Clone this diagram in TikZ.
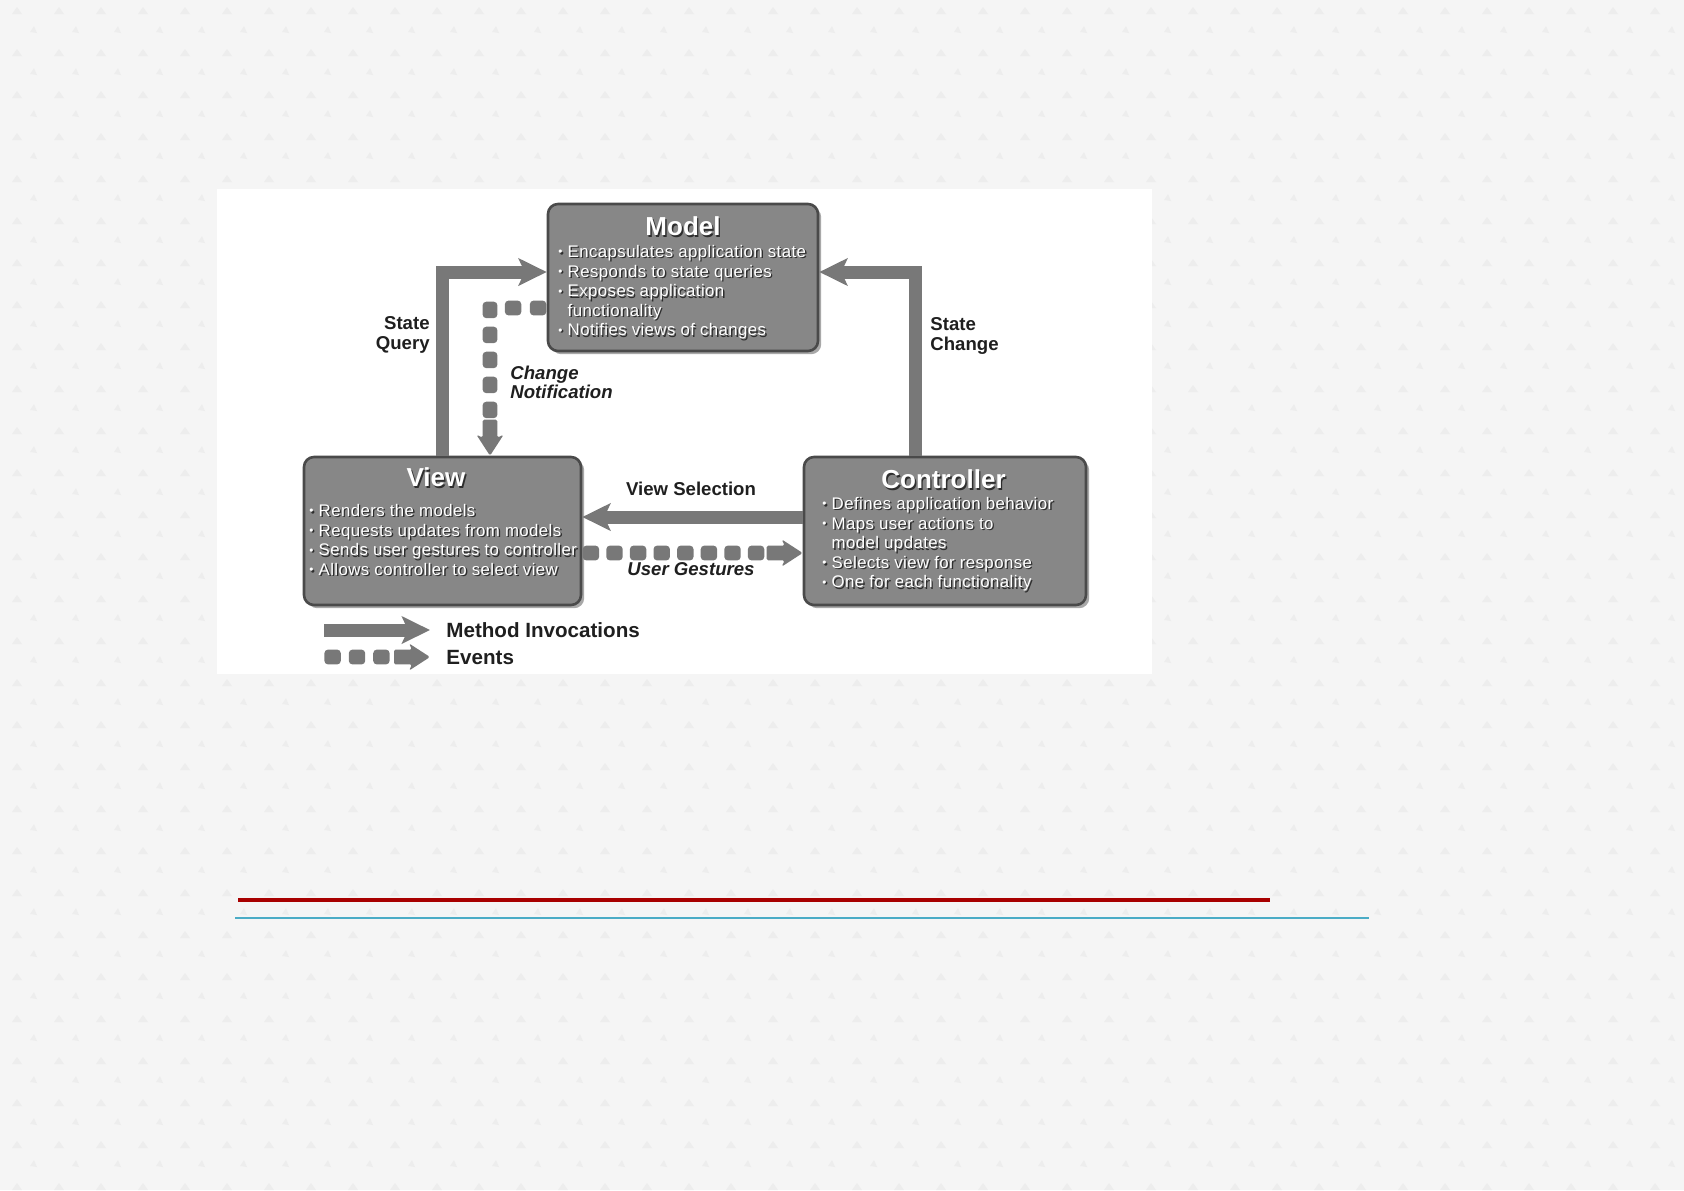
\documentclass[tikz,border=0pt]{standalone}
\usepackage{fontspec}
\setmainfont{Liberation Sans}
\usepackage{graphicx}
\usetikzlibrary{arrows.meta,shadows,decorations.markings}
\definecolor{bgcol}{HTML}{F5F5F5}
\definecolor{bgmark}{HTML}{EDEDED}
\definecolor{boxfill}{HTML}{878787}
\definecolor{boxdraw}{HTML}{4A4A4A}
\definecolor{arrcol}{HTML}{787878}
\definecolor{txtsh}{HTML}{2E2E2E}
\definecolor{redline}{HTML}{A80000}
\definecolor{blueline}{HTML}{4BACC6}
\newcommand\shd[1]{\leavevmode\rlap{\kern0.7pt\raisebox{-0.7pt}{\textcolor{txtsh}{#1}}}#1}
\newcommand\itm[1]{\shd{\raisebox{.2ex}{\scalebox{.7}{•}}\hspace{2.6pt}#1}}
\newcommand\cnt[1]{\shd{\hphantom{\scalebox{.7}{•}}\hspace{2.6pt}#1}}
\begin{document}
\begin{tikzpicture}[x=0.5pt,y=-0.5pt,
  box/.style={draw=boxdraw, line width=1.3pt, fill=boxfill, rounded corners=5pt,
     drop shadow={shadow xshift=1.6pt, shadow yshift=-1.6pt, opacity=.45, fill=black!75}},
  ttl/.style={text=white, font=\bfseries\fontsize{13}{15}\selectfont, inner sep=0pt},
  blt/.style={text=white, font=\fontsize{8.4}{9.8}\selectfont\addfontfeatures{LetterSpace=2.5}, align=left, inner sep=0pt, anchor=north west},
  lbl/.style={font=\bfseries\fontsize{9.3}{9.6}\selectfont, inner sep=0pt, text=black!88},
  ilbl/.style={font=\bfseries\itshape\fontsize{9.3}{9.6}\selectfont, inner sep=0pt, text=black!88},
  leg/.style={font=\bfseries\fontsize{10.3}{12}\selectfont, inner sep=0pt, text=black!88},
  marrow/.style={draw=arrcol, line width=6.5pt, -{Stealth[length=14pt,width=13.5pt,inset=3pt]}},
  evarrow/.style={color=arrcol, postaction={decorate}, decoration={markings,
     mark=between positions 4.3pt and -22pt step #1 with {\fill[rounded corners=1.8pt] (-4.1pt,-3.7pt) rectangle (4.1pt,3.7pt);},
     mark=at position 1 with {\fill[rounded corners=0.8pt] (-18pt,-3.7pt) -- (-9pt,-3.7pt) -- (-10.5pt,-6.8pt) -- (0pt,0pt) -- (-10.5pt,6.8pt) -- (-9pt,3.7pt) -- (-18pt,3.7pt) -- cycle;}}},
  evarrow/.default=12pt,
]
\useasboundingbox (0,0) rectangle (1684,1190);
\fill[bgcol] (0,0) rectangle (1684,1190);
\foreach \i in {0,...,41} {\foreach \j in {0,...,29} {
  \fill[bgmark] (\i*42+12,\j*42+14) -- ++(5,-7) -- ++(5,7) -- cycle;
  \fill[bgmark] (\i*42+30,\j*42+32) -- ++(4,-6) -- ++(3,7) -- cycle;
}}
\fill[white] (217,189) rectangle (1152,674);

% boxes
\node[box, minimum width=135pt, minimum height=73.5pt] (model) at (683,277.5) {};
\node[box, minimum width=138.5pt, minimum height=74pt] (view) at (442.5,531) {};
\node[box, minimum width=141pt, minimum height=74pt] (ctrl) at (945,531) {};

% titles
\node[ttl] (modelT) at (683,227) {\shd{Model}};
\node[ttl] (viewT) at (436,478) {\shd{View}};
\node[ttl] (ctrlT) at (943.5,480) {\shd{Controller}};

% bullets
\node[blt] (modelB) at (558,245) {\itm{Encapsulates application state}\\ \itm{Responds to state queries}\\ \itm{Exposes application}\\ \cnt{functionality}\\ \itm{Notifies views of changes}};
\node[blt] (viewB) at (309,504) {\itm{Renders the models}\\ \itm{Requests updates from models}\\ \itm{Sends user gestures to controller}\\ \itm{Allows controller to select view}};
\node[blt] (ctrlB) at (822,497) {\itm{Defines application behavior}\\ \itm{Maps user actions to}\\ \cnt{model updates}\\ \itm{Selects view for response}\\ \itm{One for each functionality}};

% method invocation arrows
\draw[marrow] (view.north) |- ([yshift=2.75pt]model.west);
\draw[marrow] ([xshift=-15pt]ctrl.north) |- ([yshift=2.75pt]model.east);
\draw[marrow] ([yshift=7pt]ctrl.west) -- ([yshift=7pt]view.east);

% event arrows
\path[evarrow=12.5pt] ([yshift=-15.25pt]model.west) -| ([xshift=23.75pt]view.north);
\path[evarrow=11.8pt] ([yshift=-11pt]view.east) -- ([yshift=-11pt]ctrl.west);

% labels
\node[lbl, align=right, anchor=east] (sq) at (430,335) {State\\Query};
\node[lbl, align=left, anchor=west] (sc) at (930,336) {State\\Change};
\node[ilbl, align=left, anchor=west] (cn) at (510,382) {Change\\Notification};
\node[lbl] (vs) at (691,489) {View Selection};
\node[ilbl] (ug) at (691,569) {User Gestures};

% legend
\coordinate (m0) at (324,630);
\coordinate (m1) at (430,630);
\draw[marrow] (m0) -- (m1);
\node[leg, anchor=west] (mi) at (446,630) {Method Invocations};
\coordinate (e0) at (324,657);
\coordinate (e1) at (430,657);
\path[evarrow=12.2pt] (e0) -- (e1);
\node[leg, anchor=west] (ev) at (446,657) {Events};

% slide rules
\draw[redline, line width=1.8pt] (238,900) -- (1270,900);
\draw[blueline, line width=0.7pt] (235,918) -- (1369,918);
\end{tikzpicture}
\end{document}
